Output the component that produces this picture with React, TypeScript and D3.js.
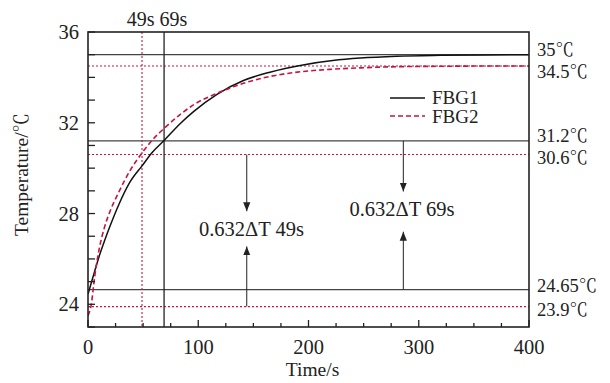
import React from 'react';
import * as d3 from 'd3';

const time = [0, 3, 6, 10, 15, 20, 28, 38, 49, 58, 69, 84, 96, 117, 141, 165, 195, 222, 247, 280, 320, 360, 400];
const fbg1 = [24.45, 24.95, 25.45, 26.1, 26.8, 27.45, 28.4, 29.38, 30.1, 30.68, 31.22, 31.98, 32.5, 33.25, 33.86, 34.23, 34.55, 34.74, 34.85, 34.93, 34.97, 34.99, 35.0];
const fbg2 = [23.5, 24.0, 25.2, 26.4, 27.4, 28.1, 28.95, 29.88, 30.67, 31.22, 31.75, 32.38, 32.8, 33.3, 33.74, 34.04, 34.26, 34.36, 34.42, 34.47, 34.49, 34.5, 34.5];

const xTicks = [0, 100, 200, 300, 400];
const yTicks = [24, 28, 32, 36];

// horizontal reference levels
const levels = [35, 34.5, 31.2, 30.6, 24.65, 23.9];
const levelLabels = ['35℃', '34.5℃', '31.2℃', '30.6℃', '24.65℃', '23.9℃'];
const levelSeries = ['FBG1', 'FBG2', 'FBG1', 'FBG2', 'FBG1', 'FBG2'];
const levelLabelShift = [-5, 5, -5, 3, -4, 3];

// time constants
const marks = [49, 69];
const markSeries = ['FBG2', 'FBG1'];

// annotations: arrow x (s), down arrow from/to, up arrow from/to, text position
const annX = [144, 286];
const annDownFrom = [30.6, 31.2];
const annDownTo = [28.1, 28.97];
const annUpFrom = [23.9, 24.65];
const annUpTo = [26.55, 27.2];
const annTextX = [148.3, 284.8];
const annTextY = [27.03, 27.87];
const annText = ['0.632ΔT 49s', '0.632ΔT 69s'];

const W = 610;
const H = 383;
const margin = { top: 32, right: 81, bottom: 56, left: 88 };
const RED = '#c8143c';
const FONT = "'Liberation Serif', 'Times New Roman', 'Noto Serif CJK SC', serif";

const App = () => {
  const x = d3.scaleLinear().domain([0, 400]).range([margin.left, W - margin.right]);
  const y = d3.scaleLinear().domain([23, 36]).range([H - margin.bottom, margin.top]);

  const line = d3.line<number>()
    .x((_, i) => x(time[i]))
    .y(d => y(d))
    .curve(d3.curveMonotoneX);

  const x0 = x(0), x1 = x(400), y0 = y(23), y1 = y(36);
  const minorX = d3.range(0, 401, 25);
  const minorY = d3.range(23, 37, 1);

  return (
    <svg width={W} height={H} style={{ position: 'absolute', left: 0, top: 0, background: '#fff' }}
      fontFamily={FONT}>
      <defs>
        <marker id="ah" viewBox="0 0 10 10" refX="10" refY="5" markerWidth="9" markerHeight="9"
          markerUnits="userSpaceOnUse" orient="auto">
          <path d="M0,1 L10,5 L0,9 Z" fill="#222" />
        </marker>
        <clipPath id="plot">
          <rect x={x0} y={y1} width={x1 - x0} height={y0 - y1} />
        </clipPath>
      </defs>

      {/* reference levels */}
      {levels.map((v, i) => (
        <line key={'lv' + i} x1={x0} x2={x1} y1={y(v)} y2={y(v)}
          stroke={levelSeries[i] === 'FBG1' ? '#444' : RED}
          strokeWidth={levelSeries[i] === 'FBG1' ? 1.2 : 1.1}
          strokeDasharray={levelSeries[i] === 'FBG1' ? undefined : '2,2'} />
      ))}
      {levels.map((v, i) => (
        <text key={'ll' + i} x={x1 + 8} y={y(v) + levelLabelShift[i]} dy="0.35em"
          fontSize={18.5} fill="#222">{levelLabels[i]}</text>
      ))}

      {/* time constant markers */}
      {marks.map((m, i) => (
        <line key={'mk' + i} x1={x(m)} x2={x(m)} y1={y1} y2={y0}
          stroke={markSeries[i] === 'FBG1' ? '#222' : RED}
          strokeWidth={markSeries[i] === 'FBG1' ? 1.3 : 1.1}
          strokeDasharray={markSeries[i] === 'FBG1' ? undefined : '2,2'} />
      ))}
      <text x={(x(49) + x(69)) / 2 + 4} y={y1 - 6} textAnchor="middle" fontSize={20} fill="#222">
        {marks.map(m => m + 's').join(' ')}
      </text>

      {/* curves */}
      <g clipPath="url(#plot)">
        <path d={line(fbg1) ?? ''} fill="none" stroke="#111" strokeWidth={1.5} />
        <path d={line(fbg2) ?? ''} fill="none" stroke={RED} strokeWidth={1.6} strokeDasharray="5,3" />
      </g>

      {/* annotations */}
      {annX.map((a, i) => (
        <g key={'an' + i}>
          <line x1={x(a)} x2={x(a)} y1={y(annDownFrom[i])} y2={y(annDownTo[i])}
            stroke="#222" strokeWidth={1} markerEnd="url(#ah)" />
          <line x1={x(a)} x2={x(a)} y1={y(annUpFrom[i])} y2={y(annUpTo[i])}
            stroke="#222" strokeWidth={1} markerEnd="url(#ah)" />
          <text x={x(annTextX[i])} y={y(annTextY[i])} textAnchor="middle" fontSize={20.5} fill="#222">
            {annText[i]}
          </text>
        </g>
      ))}

      {/* legend */}
      <line x1={390} x2={425} y1={98} y2={98} stroke="#111" strokeWidth={1.5} />
      <text x={432} y={104} fontSize={19} fill="#222">FBG1</text>
      <line x1={390} x2={425} y1={116} y2={116} stroke={RED} strokeWidth={1.6} strokeDasharray="5,3" />
      <text x={432} y={123} fontSize={19} fill="#222">FBG2</text>

      {/* ticks */}
      {minorX.map(t => (
        <line key={'tx' + t} x1={x(t)} x2={x(t)} y1={y0} y2={y0 - (t % 100 === 0 ? 7 : 4)}
          stroke="#222" strokeWidth={1.3} />
      ))}
      {minorY.map(t => (
        <line key={'ty' + t} x1={x0} x2={x0 + 7} y1={y(t)} y2={y(t)} stroke="#222" strokeWidth={1.3} />
      ))}
      {xTicks.map(t => (
        <text key={'xl' + t} x={x(t)} y={y0 + 27} textAnchor="middle" fontSize={20.5} fill="#222">{t}</text>
      ))}
      {yTicks.map(t => (
        <text key={'yl' + t} x={x0 - 9} y={y(t)} dy="0.35em" textAnchor="end" fontSize={20.5} fill="#222">{t}</text>
      ))}

      {/* frame */}
      <rect x={x0} y={y1} width={x1 - x0} height={y0 - y1} fill="none" stroke="#222" strokeWidth={1.6} />

      {/* axis titles */}
      <text x={(x0 + x1) / 2 + 4} y={H - 7} textAnchor="middle" fontSize={19.5} fill="#222">Time/s</text>
      <text transform={`translate(28,${(y0 + y1) / 2 - 5}) rotate(-90)`} textAnchor="middle"
        fontSize={19.5} fill="#222">Temperature/℃</text>
    </svg>
  );
};

export default App;
